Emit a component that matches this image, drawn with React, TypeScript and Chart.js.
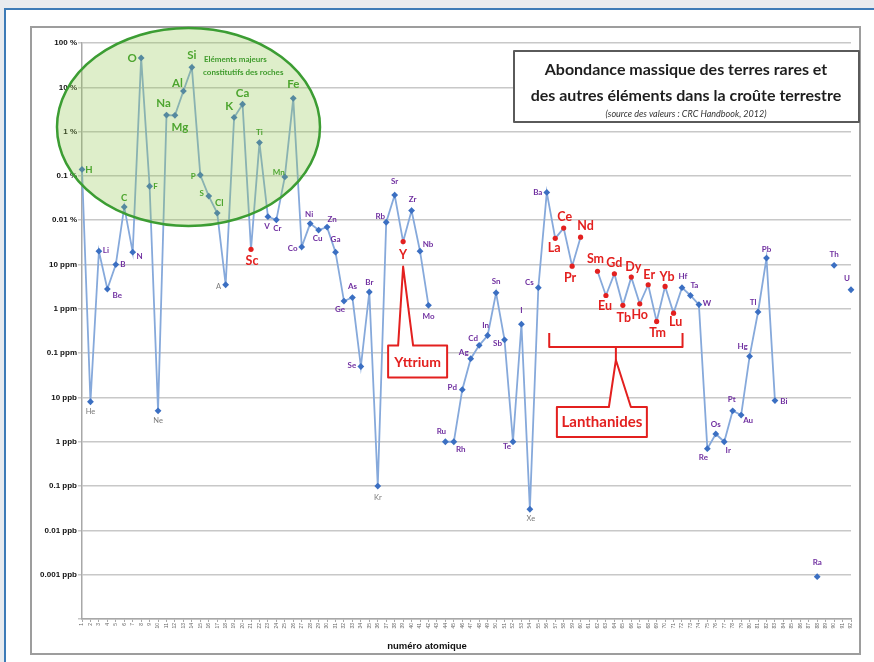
import { useEffect, useRef } from "react";
import { Chart, registerables } from "chart.js";

Chart.register(...registerables);

// Atomic numbers shown on the category axis
const ATOMIC_NUMBERS = [
  1, 2, 3, 4, 5, 6, 7, 8, 9, 10, 11, 12, 13, 14, 15, 16, 17, 18, 19, 20,
  21, 22, 23, 24, 25, 26, 27, 28, 29, 30, 31, 32, 33, 34, 35, 36, 37, 38, 39, 40,
  41, 42, 43, 44, 45, 46, 47, 48, 49, 50, 51, 52, 53, 54, 55, 56, 57, 58, 59, 60,
  61, 62, 63, 64, 65, 66, 67, 68, 69, 70, 71, 72, 73, 74, 75, 76, 77, 78, 79, 80,
  81, 82, 83, 84, 85, 86, 87, 88, 89, 90, 91, 92,
];

const SYMBOLS = [
  "H", "He", "Li", "Be", "B", "C", "N", "O", "F", "Ne",
  "Na", "Mg", "Al", "Si", "P", "S", "Cl", "A", "K", "Ca",
  "Sc", "Ti", "V", "Cr", "Mn", "Fe", "Co", "Ni", "Cu", "Zn",
  "Ga", "Ge", "As", "Se", "Br", "Kr", "Rb", "Sr", "Y", "Zr",
  "Nb", "Mo", "Tc", "Ru", "Rh", "Pd", "Ag", "Cd", "In", "Sn",
  "Sb", "Te", "I", "Xe", "Cs", "Ba", "La", "Ce", "Pr", "Nd",
  "Pm", "Sm", "Eu", "Gd", "Tb", "Dy", "Ho", "Er", "Tm", "Yb",
  "Lu", "Hf", "Ta", "W", "Re", "Os", "Ir", "Pt", "Au", "Hg",
  "Tl", "Pb", "Bi", "Po", "At", "Rn", "Fr", "Ra", "Ac", "Th",
  "Pa", "U",
];

// Crustal abundance in mg/kg (ppm); null where no value is plotted
const ABUNDANCE_PPM: (number | null)[] = [
  1400, 0.008, 20, 2.8, 10, 200, 19, 461000, 585, 0.005,
  23600, 23300, 82300, 282000, 1050, 350, 145, 3.5, 20900, 41500,
  22, 5650, 120, 102, 950, 56300, 25, 84, 60, 70,
  19, 1.5, 1.8, 0.05, 2.4, 0.0001, 90, 370, 33, 165,
  20, 1.2, null, 0.001, 0.001, 0.015, 0.075, 0.15, 0.25, 2.3,
  0.2, 0.001, 0.45, 0.00003, 3, 425, 39, 66.5, 9.2, 41.5,
  null, 7.05, 2.0, 6.2, 1.2, 5.2, 1.3, 3.5, 0.52, 3.2,
  0.8, 3.0, 2.0, 1.25, 0.0007, 0.0015, 0.001, 0.005, 0.004, 0.085,
  0.85, 14, 0.0085, null, null, null, null, 0.0000009, null, 9.6,
  null, 2.7,
];

const Y_TICK_VALUES = [1e6, 1e5, 1e4, 1e3, 1e2, 10, 1, 0.1, 0.01, 1e-3, 1e-4, 1e-5, 1e-6];
const Y_TICK_LABELS = [
  "100 %", "10 %", "1 %", "0.1 %", "0.01 %", "10 ppm", "1 ppm", "0.1 ppm",
  "10 ppb", "1 ppb", "0.1 ppb", "0.01 ppb", "0.001 ppb",
];

const MAJOR_ELEMENTS = ["H", "C", "O", "F", "Na", "Mg", "Al", "Si", "P", "S", "Cl", "K", "Ca", "Ti", "Mn", "Fe"];
const MAJOR_LARGE = ["O", "Na", "Mg", "Al", "Si", "K", "Ca", "Fe"];
const MAJOR_MEDIUM = ["H", "C", "Cl"];
const NOBLE_GASES = ["He", "Ne", "A", "Kr", "Xe"];
const RARE_EARTHS = ["Sc", "Y", "La", "Ce", "Pr", "Nd", "Sm", "Eu", "Gd", "Tb", "Dy", "Ho", "Er", "Tm", "Yb", "Lu"];

// Where each symbol sits relative to its marker
const LABEL_OFFSETS: Record<string, [number, number]> = {
  H: [7, 0], He: [0, 10], Li: [7, -1], Be: [10, 6], B: [7, 0], C: [0, -9], N: [7, 4],
  O: [-9, 0], F: [6, 0], Ne: [0, 10], Na: [-3, -12], Mg: [5, 12], Al: [-6, -8], Si: [0, -12],
  P: [-7, 1], S: [-7, -3], Cl: [2, -10], A: [-7, 2], K: [-5, -11], Ca: [0, -11], Sc: [1, 12],
  Ti: [0, -10], V: [-1, 10], Cr: [1, 9], Mn: [-6, -4], Fe: [0, -14], Co: [-9, 2], Ni: [-1, -9],
  Cu: [-1, 8], Zn: [5, -8], Ga: [0, -13], Ge: [-4, 8], As: [0, -11], Se: [-9, -1], Br: [0, -10],
  Kr: [0, 12], Rb: [-6, -6], Sr: [0, -14], Y: [0, 13], Zr: [1, -11], Nb: [8, -7], Mo: [0, 11],
  Ru: [-4, -10], Rh: [7, 8], Pd: [-10, -2], Ag: [-7, -6], Cd: [-6, -7], In: [-2, -10], Sn: [0, -11],
  Sb: [-7, 4], Te: [-6, 5], I: [0, -14], Xe: [1, 9], Cs: [-9, -5], Ba: [-9, 0], La: [-1, 10],
  Ce: [1, -11], Pr: [-2, 12], Nd: [5, -11], Sm: [-2, -12], Eu: [-1, 10], Gd: [0, -11], Tb: [1, 13],
  Dy: [2, -10], Ho: [0, 11], Er: [1, -10], Tm: [1, 12], Yb: [2, -9], Lu: [2, 9], Hf: [1, -11],
  Ta: [4, -10], W: [8, -1], Re: [-4, 9], Os: [0, -10], Ir: [4, 9], Pt: [-1, -11], Au: [7, 5],
  Hg: [-7, -10], Tl: [-5, -10], Pb: [0, -9], Bi: [9, 1], Ra: [0, -14], Th: [0, -11], U: [-4, -11],
};

const BLUE_MARK = "#3b6fc2";
const BLUE_LINE = "#86a9db";
const RED = "#e3201f";
const GREEN_TEXT = "#4da52f";
const PURPLE = "#7030a0";
const GRAY_TEXT = "#7a7a7a";
const LABEL_FONT = "Lato, 'Liberation Sans', Arial, sans-serif";

function labelStyle(sym: string): { font: string; color: string } {
  if (RARE_EARTHS.includes(sym)) return { font: `bold 12.5px ${LABEL_FONT}`, color: RED };
  if (MAJOR_LARGE.includes(sym)) return { font: `bold 11.5px ${LABEL_FONT}`, color: GREEN_TEXT };
  if (MAJOR_MEDIUM.includes(sym)) return { font: `bold 9.5px ${LABEL_FONT}`, color: GREEN_TEXT };
  if (MAJOR_ELEMENTS.includes(sym)) return { font: `bold 8px ${LABEL_FONT}`, color: GREEN_TEXT };
  if (NOBLE_GASES.includes(sym)) return { font: `7.5px ${LABEL_FONT}`, color: GRAY_TEXT };
  return { font: `bold 8px ${LABEL_FONT}`, color: PURPLE };
}

const decorations = {
  id: "decorations",
  beforeDraw(chart: any) {
    const ctx = chart.ctx as CanvasRenderingContext2D;
    const W = chart.width;
    const H = chart.height;
    ctx.save();
    ctx.fillStyle = "#e8ebef";
    ctx.fillRect(0, 0, W, H);
    ctx.fillStyle = "#ffffff";
    ctx.fillRect(5, 9, W, H);
    ctx.strokeStyle = "#3d7bb7";
    ctx.lineWidth = 2;
    ctx.beginPath();
    ctx.moveTo(5, H);
    ctx.lineTo(5, 9);
    ctx.lineTo(W, 9);
    ctx.stroke();
    ctx.strokeStyle = "#9d9d9d";
    ctx.lineWidth = 2;
    ctx.strokeRect(31, 27, 829, 627);
    ctx.restore();
  },
  afterDatasetsDraw(chart: any) {
    const ctx = chart.ctx as CanvasRenderingContext2D;
    const meta = chart.getDatasetMeta(0);
    ctx.save();

    // Major rock-forming elements
    ctx.beginPath();
    ctx.ellipse(188.5, 127, 131.5, 99, 0, 0, Math.PI * 2);
    ctx.fillStyle = "rgba(146, 200, 80, 0.3)";
    ctx.fill();
    ctx.strokeStyle = "#3c9d33";
    ctx.lineWidth = 2.5;
    ctx.stroke();
    ctx.fillStyle = "#3f9b2c";
    ctx.font = `bold 8px ${LABEL_FONT}`;
    ctx.textAlign = "left";
    ctx.textBaseline = "middle";
    ctx.fillText("Eléments majeurs", 204, 59, 66);
    ctx.fillText("constitutifs des roches", 203, 72, 85);

    // Element symbols
    ctx.textAlign = "center";
    ctx.textBaseline = "middle";
    SYMBOLS.forEach((sym, i) => {
      if (ABUNDANCE_PPM[i] == null) return;
      const pt = meta.data[i];
      const off = LABEL_OFFSETS[sym] || [6, 0];
      const st = labelStyle(sym);
      ctx.font = st.font;
      ctx.fillStyle = st.color;
      ctx.fillText(sym, pt.x + off[0], pt.y + off[1]);
    });

    ctx.strokeStyle = RED;
    ctx.lineWidth = 2;
    ctx.lineJoin = "round";

    // Yttrium callout
    const yPt = meta.data[SYMBOLS.indexOf("Y")];
    const px = yPt.x;
    const py = yPt.y;
    ctx.beginPath();
    ctx.moveTo(px - 15, py + 104);
    ctx.lineTo(px - 5, py + 104);
    ctx.lineTo(px, py + 25);
    ctx.lineTo(px + 10, py + 104);
    ctx.lineTo(px + 44, py + 104);
    ctx.lineTo(px + 44, py + 136);
    ctx.lineTo(px - 15, py + 136);
    ctx.closePath();
    ctx.fillStyle = "#ffffff";
    ctx.fill();
    ctx.stroke();
    ctx.fillStyle = RED;
    ctx.font = `bold 14px ${LABEL_FONT}`;
    ctx.fillText("Yttrium", px + 14.5, py + 121);

    // Lanthanides bracket and callout
    const xL = meta.data[SYMBOLS.indexOf("La")].x - 6;
    const xR = meta.data[SYMBOLS.indexOf("Lu")].x + 9;
    const xm = (xL + xR) / 2;
    ctx.beginPath();
    ctx.moveTo(xL, 333);
    ctx.lineTo(xL, 347);
    ctx.lineTo(xR, 347);
    ctx.lineTo(xR, 333);
    ctx.moveTo(xm, 347);
    ctx.lineTo(xm, 360);
    ctx.stroke();
    ctx.beginPath();
    ctx.moveTo(xm - 59, 407);
    ctx.lineTo(xm - 7, 407);
    ctx.lineTo(xm, 360);
    ctx.lineTo(xm + 15, 407);
    ctx.lineTo(xm + 31, 407);
    ctx.lineTo(xm + 31, 437);
    ctx.lineTo(xm - 59, 437);
    ctx.closePath();
    ctx.fillStyle = "#ffffff";
    ctx.fill();
    ctx.stroke();
    ctx.fillStyle = RED;
    ctx.font = `bold 15px ${LABEL_FONT}`;
    ctx.fillText("Lanthanides", xm - 14, 422.5);

    // Title box
    ctx.fillStyle = "#ffffff";
    ctx.fillRect(514, 51, 345, 71);
    ctx.strokeStyle = "#5a5a5a";
    ctx.lineWidth = 2;
    ctx.strokeRect(514, 51, 345, 71);
    ctx.fillStyle = "#1e1e1e";
    ctx.font = `bold 16px ${LABEL_FONT}`;
    ctx.fillText("Abondance massique des terres rares et", 686, 70, 292);
    ctx.fillText("des autres éléments dans la croûte terrestre", 686, 96, 336);
    ctx.font = `italic 9px ${LABEL_FONT}`;
    ctx.fillStyle = "#333333";
    ctx.fillText("(source des valeurs : CRC Handbook, 2012)", 686, 114, 200);

    // Horizontal axis title
    ctx.font = "bold 9.5px 'Liberation Sans', Arial, sans-serif";
    ctx.fillStyle = "#111111";
    ctx.fillText("numéro atomique", 427, 646);
    ctx.restore();
  },
};

export default function App() {
  const canvasRef = useRef<HTMLCanvasElement | null>(null);

  useEffect(() => {
    document.body.style.margin = "0";
    const canvas = canvasRef.current;
    if (!canvas) return;

    const pointStyles = SYMBOLS.map((s) => (RARE_EARTHS.includes(s) ? "circle" : "rectRot"));
    const pointRadii = SYMBOLS.map((s) => (RARE_EARTHS.includes(s) ? 2.6 : 3.4));
    const pointColors = SYMBOLS.map((s) => (RARE_EARTHS.includes(s) ? RED : BLUE_MARK));

    const chart = new Chart(canvas, {
      type: "line",
      data: {
        labels: ATOMIC_NUMBERS.map(String),
        datasets: [
          {
            data: ABUNDANCE_PPM as any,
            borderColor: BLUE_LINE,
            borderWidth: 1.8,
            spanGaps: false,
            pointStyle: pointStyles as any,
            pointRadius: pointRadii,
            pointBackgroundColor: pointColors,
            pointBorderColor: pointColors,
            pointBorderWidth: 0,
            tension: 0,
          },
        ],
      },
      plugins: [decorations],
      options: {
        animation: false,
        responsive: false,
        devicePixelRatio: 1,
        layout: { padding: { top: 43, right: 23, bottom: 0, left: 0 } },
        plugins: {
          legend: { display: false },
          tooltip: { enabled: false },
          title: { display: false },
        },
        scales: {
          x: {
            type: "category",
            offset: false,
            grid: {
              display: true,
              drawOnChartArea: false,
              drawTicks: true,
              tickLength: 3,
              color: "#a8a8a8",
            },
            border: { display: true, color: "#a8a8a8", width: 1.5 },
            ticks: {
              autoSkip: false,
              maxRotation: 90,
              minRotation: 90,
              padding: 1,
              color: "#666666",
              font: { size: 5, family: "'Liberation Sans', Arial, sans-serif" },
            },
            afterFit: (scale: any) => {
              scale.height = 43;
            },
          },
          y: {
            type: "logarithmic",
            min: 1e-7,
            max: 1e6,
            grid: {
              color: "#c8c8c8",
              lineWidth: 1.5,
              drawTicks: true,
              tickLength: 4,
            },
            border: { display: true, color: "#a8a8a8", width: 1.5 },
            ticks: {
              padding: 1,
              color: "#111111",
              font: { size: 8, weight: "bold", family: "'Liberation Sans', Arial, sans-serif" },
              callback: (value: any) => {
                const idx = Y_TICK_VALUES.findIndex(
                  (v) => Math.round(Math.log10(v)) === Math.round(Math.log10(Number(value)))
                );
                return idx >= 0 ? Y_TICK_LABELS[idx] : "";
              },
            },
            afterBuildTicks: (scale: any) => {
              scale.ticks = [...Y_TICK_VALUES, 1e-7].map((v) => ({ value: v }));
            },
            afterFit: (scale: any) => {
              scale.width = 82;
            },
          },
        },
      },
    });

    return () => chart.destroy();
  }, []);

  return (
    <div style={{ width: 874, height: 662, position: "relative" }}>
      <canvas ref={canvasRef} width={874} height={662} style={{ display: "block" }} />
    </div>
  );
}
